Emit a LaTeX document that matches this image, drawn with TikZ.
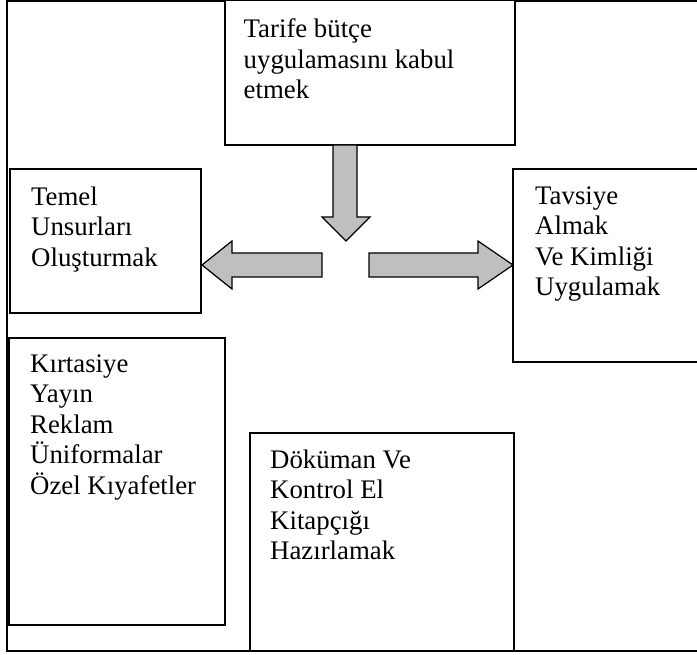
\documentclass[tikz,border=0pt]{standalone}
\usepackage{fontspec}
\setmainfont{Liberation Serif}
\begin{document}
\begin{tikzpicture}[x=1pt,y=-1pt,
  box/.style={draw=black,line width=1.4pt},
  frame/.style={draw=black,line width=1.6pt},
  blockarrow/.style={draw=black,fill=black!25,line width=1.2pt,line join=miter},
  txt/.style={anchor=north west,inner sep=0pt,align=left,
    font=\fontsize{26.8pt}{30.5pt}\selectfont}]
\useasboundingbox (0,0) rectangle (697,655);
% outer frame
\draw[frame] (7,0.8) rectangle (697.5,651);
% boxes
\draw[box,fill=white] (225,0.8) rectangle (515,145);
\draw[box] (10,169) rectangle (201,313);
\draw[box] (513,169) rectangle (697.5,362);
\draw[box] (9,338) rectangle (225,625);
\draw[box] (250,433) rectangle (514,651);
% texts
\node[txt] (top) at (243.5,18.5) {Tarife bütçe\\uygulamasını kabul\\etmek};
\node[txt] (temel) at (31,186.5) {Temel\\Unsurları\\Oluşturmak};
\node[txt] (tavsiye) at (535,186.5) {Tavsiye\\Almak\\Ve Kimliği\\Uygulamak};
\node[txt] (kirt) at (30,354.5) {Kırtasiye\\Yayın\\Reklam\\Üniformalar\\Özel Kıyafetler};
\node[txt] (dok) at (270,449.5) {Döküman Ve\\Kontrol El\\Kitapçığı\\Hazırlamak};
% block arrows
\draw[blockarrow] (333,145) -- (357,145) -- (357,217) -- (370,217) -- (346,241) -- (322,217) -- (333,217) -- cycle;
\draw[blockarrow] (322,253) -- (322,277) -- (232,277) -- (232,289) -- (202,265) -- (232,241) -- (232,253) -- cycle;
\draw[blockarrow] (369,253) -- (478,253) -- (478,241) -- (513,265) -- (478,289) -- (478,277) -- (369,277) -- cycle;
\end{tikzpicture}
\end{document}
